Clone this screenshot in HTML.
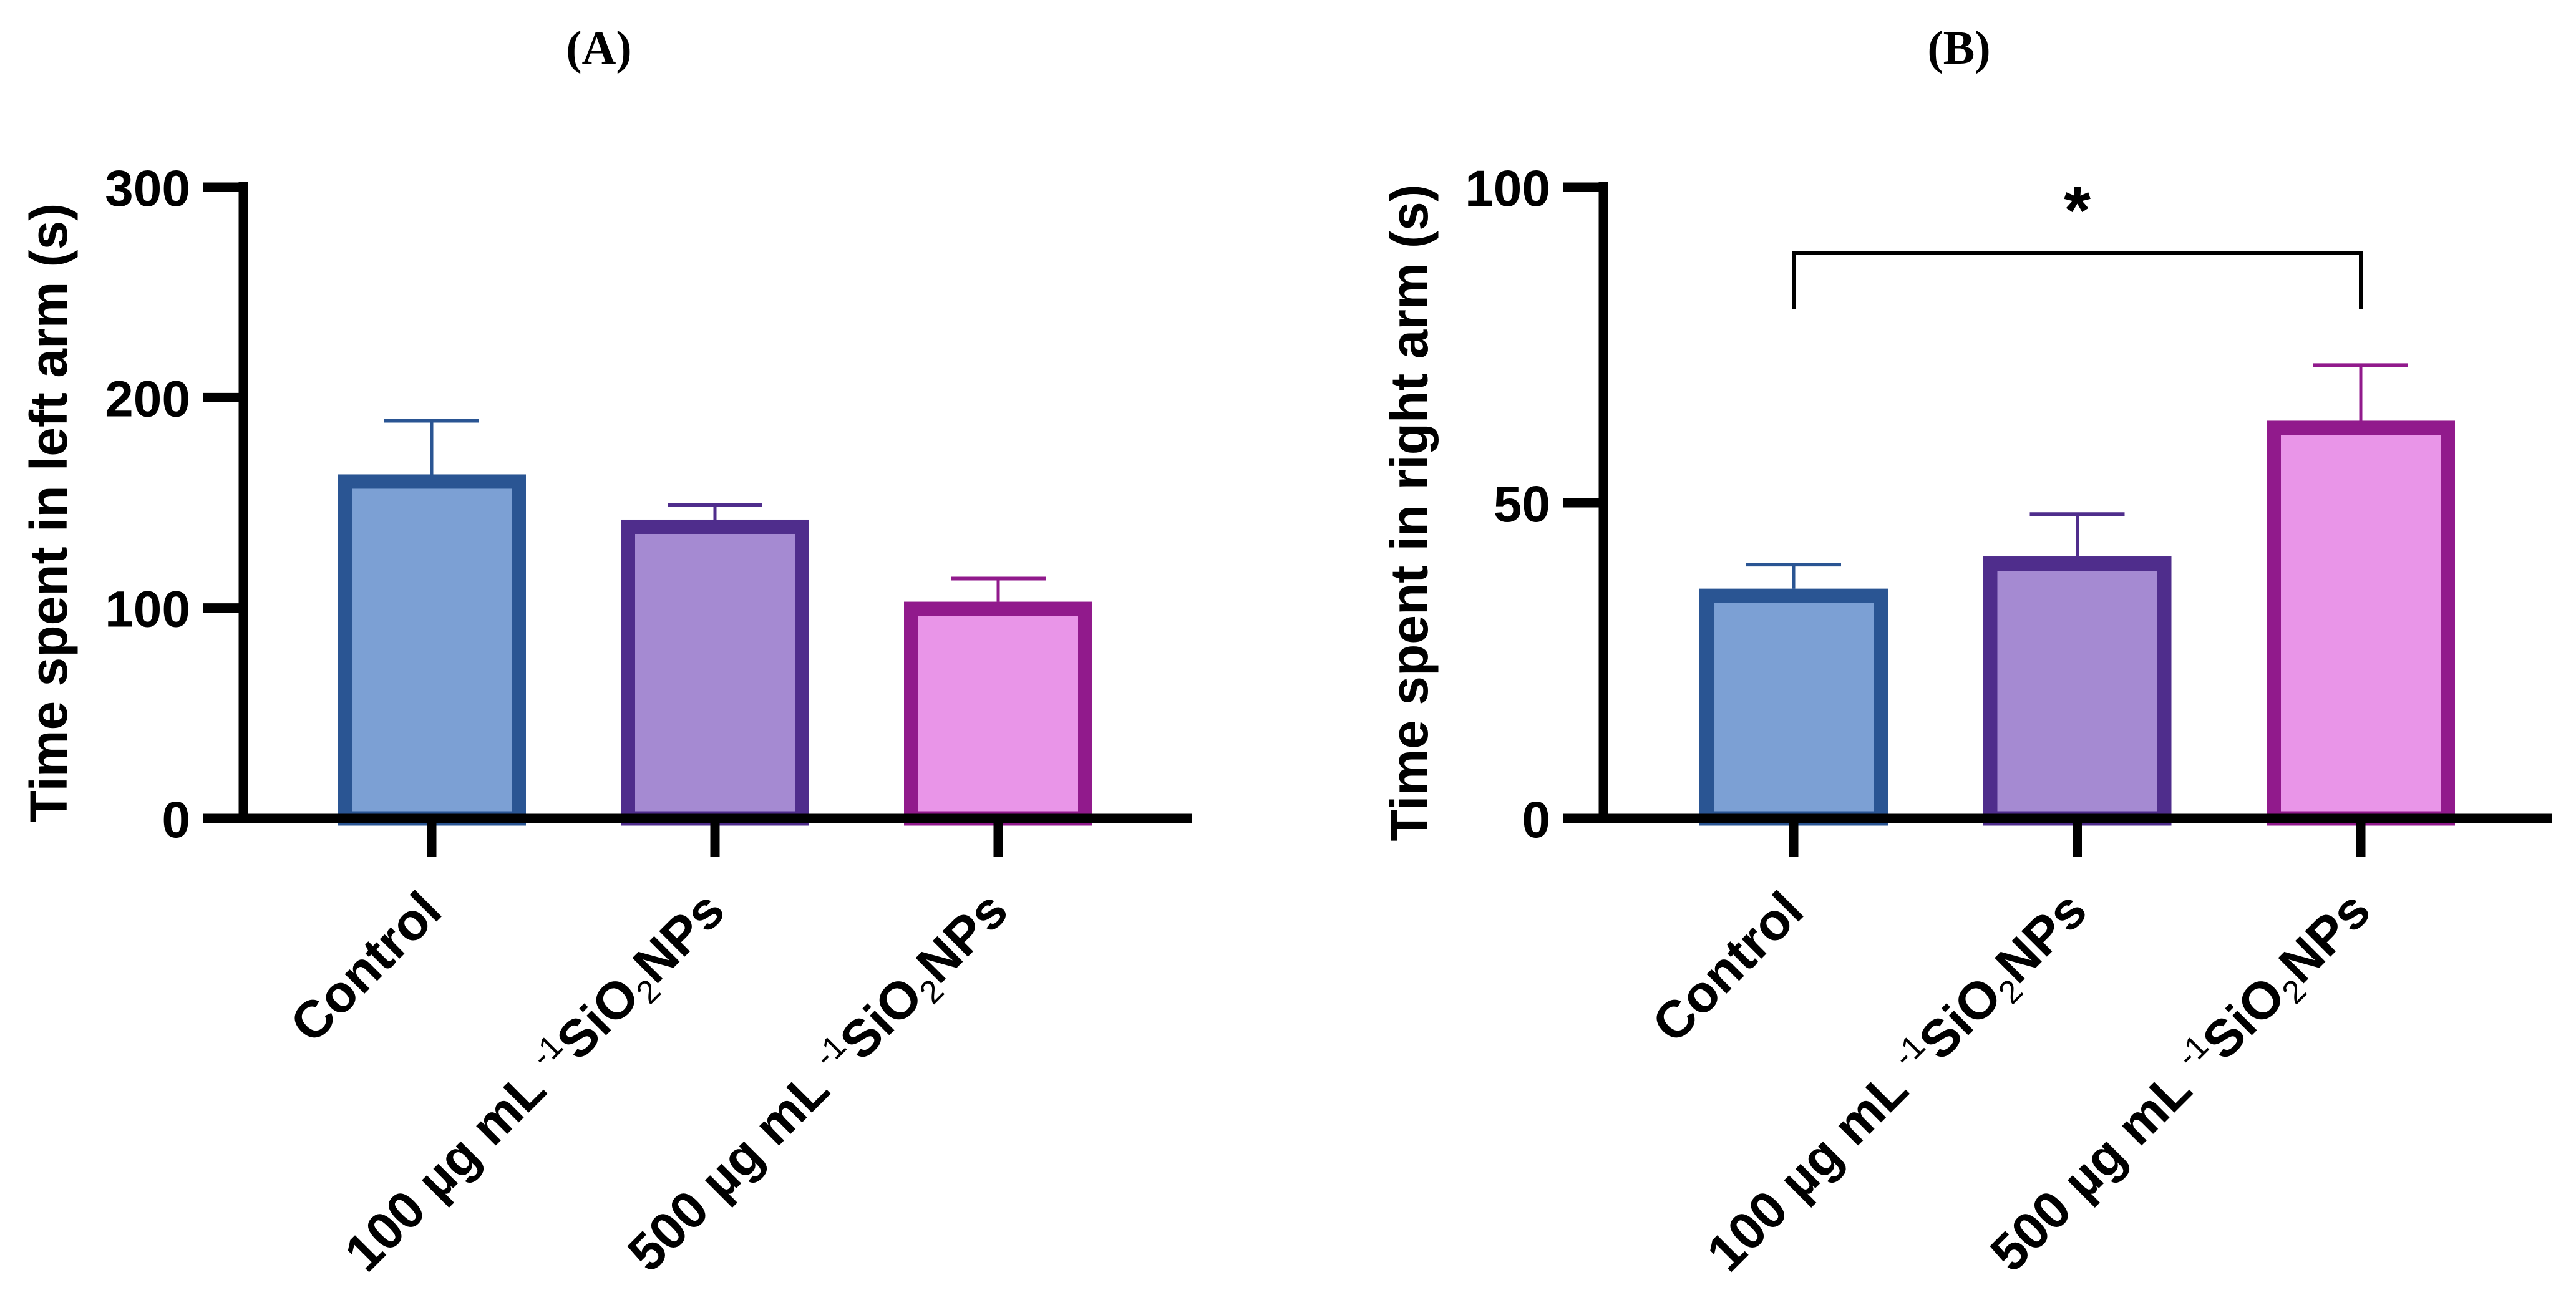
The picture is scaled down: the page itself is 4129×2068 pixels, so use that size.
<!DOCTYPE html>
<html><head><meta charset="utf-8"><style>
html,body{margin:0;padding:0;background:#fff;}
svg{display:block;}
text{font-family:"Liberation Sans",Arial,sans-serif;}
text.serif{font-family:"Liberation Serif",serif;}
</style></head>
<body>
<svg id="fig" width="4129" height="2068" viewBox="0 0 4129 2068" xmlns="http://www.w3.org/2000/svg">
<rect width="4129" height="2068" fill="#fff"/>
<text class="serif" x="960" y="102" text-anchor="middle" font-weight="bold" font-size="76">(A)</text>
<text class="serif" x="3140" y="102" text-anchor="middle" font-weight="bold" font-size="76">(B)</text>
<g id="pa"></g>
<g id="pb"></g>
</svg>
<script>
const categories = ["Control", "100", "500"];
const valuesA = [163.5, 142, 103];
const errorsA = [189, 149, 114];
const ticksA = [0, 100, 200, 300];
const valuesB = [36.4, 41.5, 63];
const errorsB = [40.2, 48.2, 71.8];
const ticksB = [0, 50, 100];
const fills = ["#7ca0d4", "#a58ad2", "#e995e8"];
const strokes = ["#2a5593", "#4f2d8c", "#911a8c"];
const NS = "http://www.w3.org/2000/svg";

function mk(parent, tag, attrs) {
  const e = document.createElementNS(NS, tag);
  for (const k in attrs) e.setAttribute(k, attrs[k]);
  parent.appendChild(e);
  return e;
}

function panel(g, cfg) {
  const yMax = cfg.ticks[cfg.ticks.length - 1];
  const y0 = 1312, yTop = 300;
  const ys = v => y0 - (v / yMax) * (y0 - yTop);
  const xs = i => cfg.x0 + i * cfg.step;
  const bw = 302, sw = 23;
  cfg.values.forEach((v, i) => {
    const cx = xs(i);
    const err = mk(g, "line", {x1: cx, x2: cx, y1: ys(cfg.errors[i]), y2: ys(v), stroke: strokes[i], "stroke-width": 5});
    
    
    const cap = mk(g, "line", {x1: cx - 76, x2: cx + 76, y1: ys(cfg.errors[i]), y2: ys(cfg.errors[i]), stroke: strokes[i], "stroke-width": 6});
    
    
    const r = mk(g, "rect", {x: cx - bw / 2 + sw / 2, y: ys(v) + sw / 2, width: bw - sw, height: Math.max(0, y0 - ys(v) - sw / 2), fill: fills[i], stroke: strokes[i], "stroke-width": sw});
    
    
  });
  const ya = mk(g, "line", {x1: cfg.ax, x2: cfg.ax, y1: yTop - 8, y2: y0 + 7, stroke: "#000", "stroke-width": 15});
  
  
  const xa = mk(g, "line", {x1: cfg.ax - 65, x2: cfg.xEnd, y1: y0, y2: y0, stroke: "#000", "stroke-width": 15});
  
  
  cfg.ticks.forEach(t => {
    const tl = mk(g, "line", {x1: cfg.ax - 65, x2: cfg.ax, y1: ys(t), y2: ys(t), stroke: "#000", "stroke-width": 15});
    
    
    const tx = mk(g, "text", {x: cfg.ax - 85, y: ys(t) + 30, "text-anchor": "end", "font-size": 82, "font-weight": "bold"});
    tx.textContent = t;
    
    
  });
  categories.forEach((c, i) => {
    const cx = xs(i);
    const tl = mk(g, "line", {x1: cx, x2: cx, y1: y0, y2: 1374, stroke: "#000", "stroke-width": 15});
    
    
    const lx = cx + 20, ly = 1465;
    const tx = mk(g, "text", {x: lx, y: ly, "text-anchor": "end", "font-size": 84, "font-weight": "bold", transform: `rotate(-45 ${lx} ${ly})`});
    
    
    if (c === "Control") { tx.textContent = "Control"; }
    else {
      tx.innerHTML = c + ' µg mL <tspan dy="-32" font-size="52" font-weight="normal">-1</tspan><tspan dy="32">SiO</tspan><tspan dy="16" font-size="52" font-weight="normal">2</tspan><tspan dy="-16">NPs</tspan>';
    }
  });
  const yt = mk(g, "text", {x: cfg.titleX, y: 822, "text-anchor": "middle", "font-size": 84, "font-weight": "bold", transform: `rotate(-90 ${cfg.titleX} 822)`});
  yt.textContent = cfg.title;
  
  
  if (cfg.sig) {
    const a = xs(0), b = xs(2);
    const br = mk(g, "polyline", {points: `${a},495 ${a},405 ${b},405 ${b},495`, fill: "none", stroke: "#000", "stroke-width": 6});
    
    
    const st = mk(g, "text", {x: (a + b) / 2, y: 375, "text-anchor": "middle", "font-size": 110, "font-weight": "bold"});
    st.textContent = "*";
    
    
  }
}

panel(document.getElementById("pa"), {values: valuesA, errors: errorsA, ticks: ticksA, ax: 390, x0: 692, step: 454, xEnd: 1910, titleX: 107, title: "Time spent in left arm (s)"});
panel(document.getElementById("pb"), {values: valuesB, errors: errorsB, ticks: ticksB, ax: 2570, x0: 2875, step: 454.5, xEnd: 4090, titleX: 2288, title: "Time spent in right arm (s)", sig: true});
</script>
</body></html>
